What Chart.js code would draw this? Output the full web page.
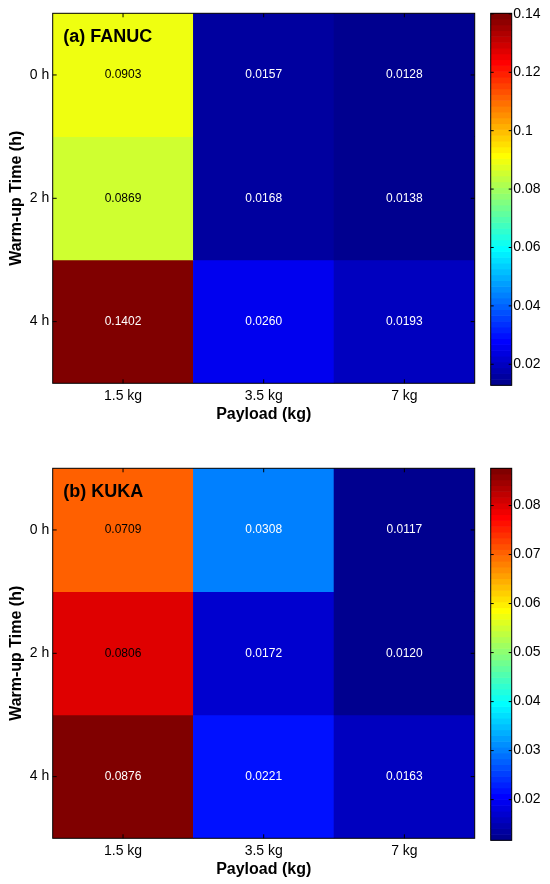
<!DOCTYPE html>
<html>
<head>
<meta charset="utf-8">
<script src="https://cdn.jsdelivr.net/npm/chart.js@4.4.0/dist/chart.umd.min.js"></script>
<style>
  html, body { margin: 0; padding: 0; background: #fff; overflow: hidden; }
  #page { position: relative; width: 550px; height: 884px; }
  canvas { position: absolute; }
</style>
</head>
<body>
<div id="page">
  <canvas id="fanuc" width="480" height="428" style="left:0;top:0"></canvas>
  <canvas id="fanucBar" width="70" height="428" style="left:480px;top:0"></canvas>
  <canvas id="kuka" width="480" height="428" style="left:0;top:455px"></canvas>
  <canvas id="kukaBar" width="70" height="428" style="left:480px;top:455px"></canvas>
</div>
<script>
const payloads = ["1.5 kg", "3.5 kg", "7 kg"];
const warmups = ["0 h", "2 h", "4 h"];

// one array per warm-up row, columns follow payloads
const fanuc0h = [0.0903, 0.0157, 0.0128];
const fanuc2h = [0.0869, 0.0168, 0.0138];
const fanuc4h = [0.1402, 0.0260, 0.0193];

const kuka0h = [0.0709, 0.0308, 0.0117];
const kuka2h = [0.0806, 0.0172, 0.0120];
const kuka4h = [0.0876, 0.0221, 0.0163];

// colorbar tick labels
const fanucTicks = [0.02, 0.04, 0.06, 0.08, 0.1, 0.12, 0.14];
const kukaTicks = [0.02, 0.03, 0.04, 0.05, 0.06, 0.07, 0.08];

const FONT = 'Arial, "Liberation Sans", sans-serif';
Chart.defaults.font.family = FONT;
Chart.defaults.color = "#000";

const CANVAS_H = 428;
const PAD_TOP = 13.3;
const PLOT_H = 370;
const AXIS_W = 52.7;

// matlab jet(64), row idx = 1..64
function jet(idx) {
  const t = idx / 64;
  const c = v => Math.round(255 * Math.min(1, Math.max(0, 1.5 - Math.abs(4 * t - v))));
  return "rgb(" + c(3) + "," + c(2) + "," + c(1) + ")";
}
function colorIndex(v, lo, hi) {
  return Math.min(64, Math.floor((v - lo) / (hi - lo) * 63) + 1);
}

const cellPlugin = {
  id: "cells",
  afterDatasetsDraw(chart, args, opts) {
    const { ctx, chartArea: a, scales: { x, y } } = chart;
    ctx.save();
    ctx.font = "12px " + FONT;
    ctx.textAlign = "center";
    ctx.textBaseline = "middle";
    chart.data.datasets.forEach((ds, i) => {
      chart.getDatasetMeta(i).data.forEach((bar, j) => {
        ctx.fillStyle = ds.textColors[j];
        ctx.fillText(ds.values[j].toFixed(4), bar.x, (bar.y + bar.base) / 2);
      });
    });

    ctx.font = "bold 18px " + FONT;
    ctx.textAlign = "left";
    ctx.fillStyle = "#000";
    ctx.fillText(opts.text, a.left + 10.6, a.top + 23.4);

    ctx.strokeStyle = "#000";
    ctx.lineWidth = 1;
    ctx.strokeRect(a.left, a.top, a.right - a.left, a.bottom - a.top);
    ctx.beginPath();
    x.ticks.forEach((t, i) => {
      const px = x.getPixelForTick(i);
      ctx.moveTo(px, a.top); ctx.lineTo(px, a.top + 4);
      ctx.moveTo(px, a.bottom); ctx.lineTo(px, a.bottom - 4);
    });
    y.ticks.forEach(t => {
      const py = y.getPixelForValue(t.value);
      ctx.moveTo(a.left, py); ctx.lineTo(a.left + 4, py);
      ctx.moveTo(a.right, py); ctx.lineTo(a.right - 4, py);
    });
    ctx.stroke();
    ctx.restore();
  }
};

const colorbarPlugin = {
  id: "colorbar",
  beforeDatasetsDraw(chart, args, opts) {
    const { ctx, chartArea: a, scales: { y } } = chart;
    const step = (opts.hi - opts.lo) / 64;
    ctx.save();
    for (let k = 0; k < 64; k++) {
      const top = y.getPixelForValue(opts.lo + (k + 1) * step);
      const bot = y.getPixelForValue(opts.lo + k * step);
      ctx.fillStyle = jet(k + 1);
      ctx.fillRect(a.left, top - 0.3, a.right - a.left, bot - top + 0.6);
    }
    ctx.strokeStyle = "#000";
    ctx.lineWidth = 1;
    ctx.strokeRect(a.left, a.top, a.right - a.left, a.bottom - a.top);
    ctx.beginPath();
    y.ticks.forEach(t => {
      const py = y.getPixelForValue(t.value);
      ctx.moveTo(a.left, py); ctx.lineTo(a.left + 3, py);
      ctx.moveTo(a.right, py); ctx.lineTo(a.right - 3, py);
    });
    ctx.stroke();
    ctx.restore();
  }
};

function heatmap(id, title, rows) {
  const all = rows.flat();
  const lo = Math.min(...all), hi = Math.max(...all);
  new Chart(document.getElementById(id), {
    type: "bar",
    data: {
      labels: payloads,
      datasets: rows.map((vals, r) => ({
        label: warmups[r],
        values: vals,
        data: vals.map(() => [r - 0.5, r + 0.5]),
        backgroundColor: vals.map(v => jet(colorIndex(v, lo, hi))),
        textColors: vals.map(v => {
          const k = colorIndex(v, lo, hi);
          return k >= 30 && k <= 60 ? "#000" : "#fff";
        }),
        borderWidth: 0,
        grouped: false,
        barPercentage: 1,
        categoryPercentage: 1
      }))
    },
    options: {
      responsive: false,
      animation: false,
      layout: { padding: { top: PAD_TOP, right: 5.3, left: 0, bottom: 0 } },
      plugins: {
        legend: { display: false },
        tooltip: { enabled: false },
        cells: { text: title }
      },
      scales: {
        x: {
          grid: { display: false, drawTicks: false },
          border: { display: false },
          ticks: { padding: 4.3, font: { size: 14 } },
          title: {
            display: true,
            text: "Payload (kg)",
            font: { size: 16, weight: "bold" },
            padding: { top: 0, bottom: 3.4 }
          },
          afterFit: s => { s.height = CANVAS_H - PAD_TOP - PLOT_H; }
        },
        y: {
          type: "linear",
          min: -0.5,
          max: 2.5,
          reverse: true,
          grid: { display: false, drawTicks: false },
          border: { display: false },
          afterBuildTicks: s => { s.ticks = warmups.map((_, i) => ({ value: i })); },
          ticks: { padding: 3.5, font: { size: 14 }, callback: v => warmups[v] },
          title: {
            display: true,
            text: "Warm-up Time (h)",
            font: { size: 16, weight: "bold" },
            padding: { top: 7, bottom: 0 }
          },
          afterFit: s => { s.width = AXIS_W; }
        }
      }
    },
    plugins: [cellPlugin]
  });
  return [lo, hi];
}

function colorbar(id, lo, hi, ticks) {
  new Chart(document.getElementById(id), {
    type: "bar",
    data: { labels: [""], datasets: [] },
    options: {
      responsive: false,
      animation: false,
      layout: { padding: { top: PAD_TOP, left: 10.7, right: 0, bottom: CANVAS_H - PAD_TOP - 372 } },
      plugins: {
        legend: { display: false },
        tooltip: { enabled: false },
        colorbar: { lo: lo, hi: hi }
      },
      scales: {
        x: { display: false },
        y: {
          position: "right",
          min: lo,
          max: hi,
          grid: { display: false, drawTicks: false },
          border: { display: false },
          afterBuildTicks: s => { s.ticks = ticks.map(v => ({ value: v })); },
          ticks: { padding: 1.5, font: { size: 14 }, callback: v => String(+v.toFixed(4)) },
          afterFit: s => { s.width = 70 - 10.7 - 21; }
        }
      }
    },
    plugins: [colorbarPlugin]
  });
}

const [fLo, fHi] = heatmap("fanuc", "(a) FANUC", [fanuc0h, fanuc2h, fanuc4h]);
colorbar("fanucBar", fLo, fHi, fanucTicks);

const [kLo, kHi] = heatmap("kuka", "(b) KUKA", [kuka0h, kuka2h, kuka4h]);
colorbar("kukaBar", kLo, kHi, kukaTicks);
</script>
</body>
</html>
